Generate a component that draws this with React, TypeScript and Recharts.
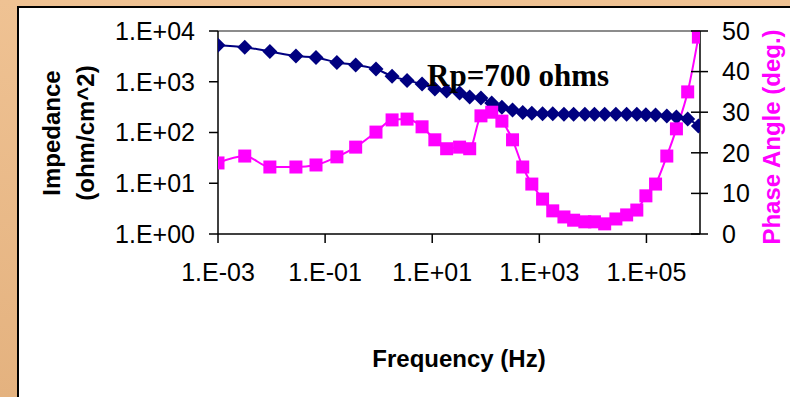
import { LineChart, Line, XAxis, YAxis, ReferenceLine } from 'recharts';

const frequencyHz = [
  0.001, 0.00316, 0.0093, 0.0285, 0.0676, 0.166, 0.372, 0.891, 1.78, 3.39, 6.46, 11.2, 18.6,
  32.4, 50.1, 81.3, 129, 200, 316, 490, 724, 1150, 1780, 2880, 4370, 7080, 10700, 16600,
  26900, 42700, 66100, 97700, 148000, 240000, 363000, 589000, 933000,
];
const impedance = [
  5250, 4800, 3950, 3200, 3000, 2400, 2140, 1780, 1290, 1060, 900, 720, 660, 600, 500, 480,
  380, 316, 277, 247, 240, 235, 235, 230, 230, 230, 230, 230, 230, 230, 230, 225, 220, 212,
  203, 185, 135,
];
const phaseDeg = [
  17.5, 19.2, 16.5, 16.5, 17.0, 19.0, 21.4, 25.1, 28.1, 28.3, 26.4, 23.2, 21.0, 21.4, 21.0,
  29.1, 30.0, 27.8, 23.2, 16.5, 12.3, 8.6, 5.7, 4.2, 3.4, 3.0, 3.0, 2.5, 3.7, 4.7, 5.9, 9.4,
  12.3, 19.2, 25.9, 35.0, 48.5,
];
const freqTicks = [0.001, 0.1, 10, 1000, 100000];
const impedanceTicks = [1, 10, 100, 1000, 10000];
const phaseTicks = [0, 10, 20, 30, 40, 50];

const data = frequencyHz.map((f, i) => ({ f, z: impedance[i], phase: phaseDeg[i] }));

const FONT = '"Liberation Sans", Arial, sans-serif';

const sci = (v: number) => {
  const e = Math.round(Math.log10(v));
  return `1.E${e < 0 ? '-' : '+'}${String(Math.abs(e)).padStart(2, '0')}`;
};

const Diamond = ({ cx, cy }: any) => (
  <polygon
    points={`${cx},${cy - 7.5} ${cx + 7.5},${cy} ${cx},${cy + 7.5} ${cx - 7.5},${cy}`}
    fill="#000080"
  />
);

const Square = ({ cx, cy }: any) => (
  <rect x={cx - 6.5} y={cy - 6.5} width={13} height={13} fill="#FF00FF" />
);

const RightTick = ({ x, y, payload }: any) => (
  <g>
    <line x1={x - 31} x2={x - 14} y1={y} y2={y} stroke="#000" strokeWidth={1.5} />
    <text x={x} y={y} dy="0.355em" fontSize={25} fontFamily={FONT} fill="#000">
      {payload.value}
    </text>
  </g>
);

export default function App() {
  return (
    <div style={{ position: 'absolute', left: 0, top: 0, width: 790, height: 397, overflow: 'hidden' }}>
      <div
        style={{
          position: 'absolute',
          inset: 0,
          background: 'linear-gradient(#EFC293, #E4B27F)',
        }}
      />
      <div
        style={{
          position: 'absolute',
          left: 17,
          top: 6,
          right: 0,
          bottom: 0,
          background: '#fff',
          borderLeft: '2px solid #000',
          borderTop: '2px solid #000',
        }}
      />
      <div style={{ position: 'absolute', left: 0, top: 0 }}>
        <LineChart width={790} height={397} data={data} margin={{ top: 31, right: 0, bottom: 0, left: 0 }}>
          <XAxis
            dataKey="f"
            type="number"
            scale="log"
            domain={[0.001, 1000000]}
            allowDataOverflow
            ticks={freqTicks}
            tickFormatter={sci}
            height={163}
            tickSize={9}
            tickMargin={20}
            axisLine={{ stroke: '#000', strokeWidth: 1.5 }}
            tickLine={{ stroke: '#000', strokeWidth: 1.5 }}
            tick={{ fill: '#000', fontSize: 25, fontFamily: FONT }}
          />
          <YAxis
            yAxisId="left"
            scale="log"
            domain={[1, 10000]}
            allowDataOverflow
            ticks={impedanceTicks}
            tickFormatter={sci}
            width={218}
            tickSize={9}
            tickMargin={14}
            axisLine={{ stroke: '#000', strokeWidth: 1.5 }}
            tickLine={{ stroke: '#000', strokeWidth: 1.5 }}
            tick={{ fill: '#000', fontSize: 25, fontFamily: FONT }}
          />
          <YAxis
            yAxisId="right"
            orientation="right"
            domain={[0, 50]}
            ticks={phaseTicks}
            width={90}
            tickSize={8}
            tickMargin={14}
            axisLine={{ stroke: '#000', strokeWidth: 1.5 }}
            tickLine={false}
            tick={<RightTick />}
          />
          <ReferenceLine yAxisId="left" y={10000} stroke="#8c8c8c" strokeWidth={2} />
          <Line
            yAxisId="left"
            dataKey="z"
            type="monotone"
            stroke="#000080"
            strokeWidth={2}
            dot={(p: any) => <Diamond key={`d${p.index}`} {...p} />}
            activeDot={false}
            isAnimationActive={false}
          />
          <Line
            yAxisId="right"
            dataKey="phase"
            type="monotone"
            stroke="#FF00FF"
            strokeWidth={2}
            dot={(p: any) => <Square key={`s${p.index}`} {...p} />}
            activeDot={false}
            isAnimationActive={false}
          />
        </LineChart>
      </div>
      <svg
        width={790}
        height={397}
        style={{ position: 'absolute', left: 0, top: 0, pointerEvents: 'none' }}
      >
        <text x={427} y={86} fontFamily='"Liberation Serif", "Times New Roman", serif' fontWeight="bold" fontSize={31} fill="#000">
          Rp=700 ohms
        </text>
        <text x={459} y={367} textAnchor="middle" fontFamily={FONT} fontWeight="bold" fontSize={24} fill="#000">
          Frequency (Hz)
        </text>
        <text x={60} y={133} transform="rotate(-90 60 133)" textAnchor="middle" fontFamily={FONT} fontWeight="bold" fontSize={24} fill="#000">
          Impedance
        </text>
        <text x={94} y={133} transform="rotate(-90 94 133)" textAnchor="middle" fontFamily={FONT} fontWeight="bold" fontSize={24} fill="#000">
          (ohm/cm^2)
        </text>
        <text x={780} y={137} transform="rotate(-90 780 137)" textAnchor="middle" fontFamily={FONT} fontWeight="bold" fontSize={24} fill="#FF00FF">
          Phase Angle (deg.)
        </text>
      </svg>
    </div>
  );
}
